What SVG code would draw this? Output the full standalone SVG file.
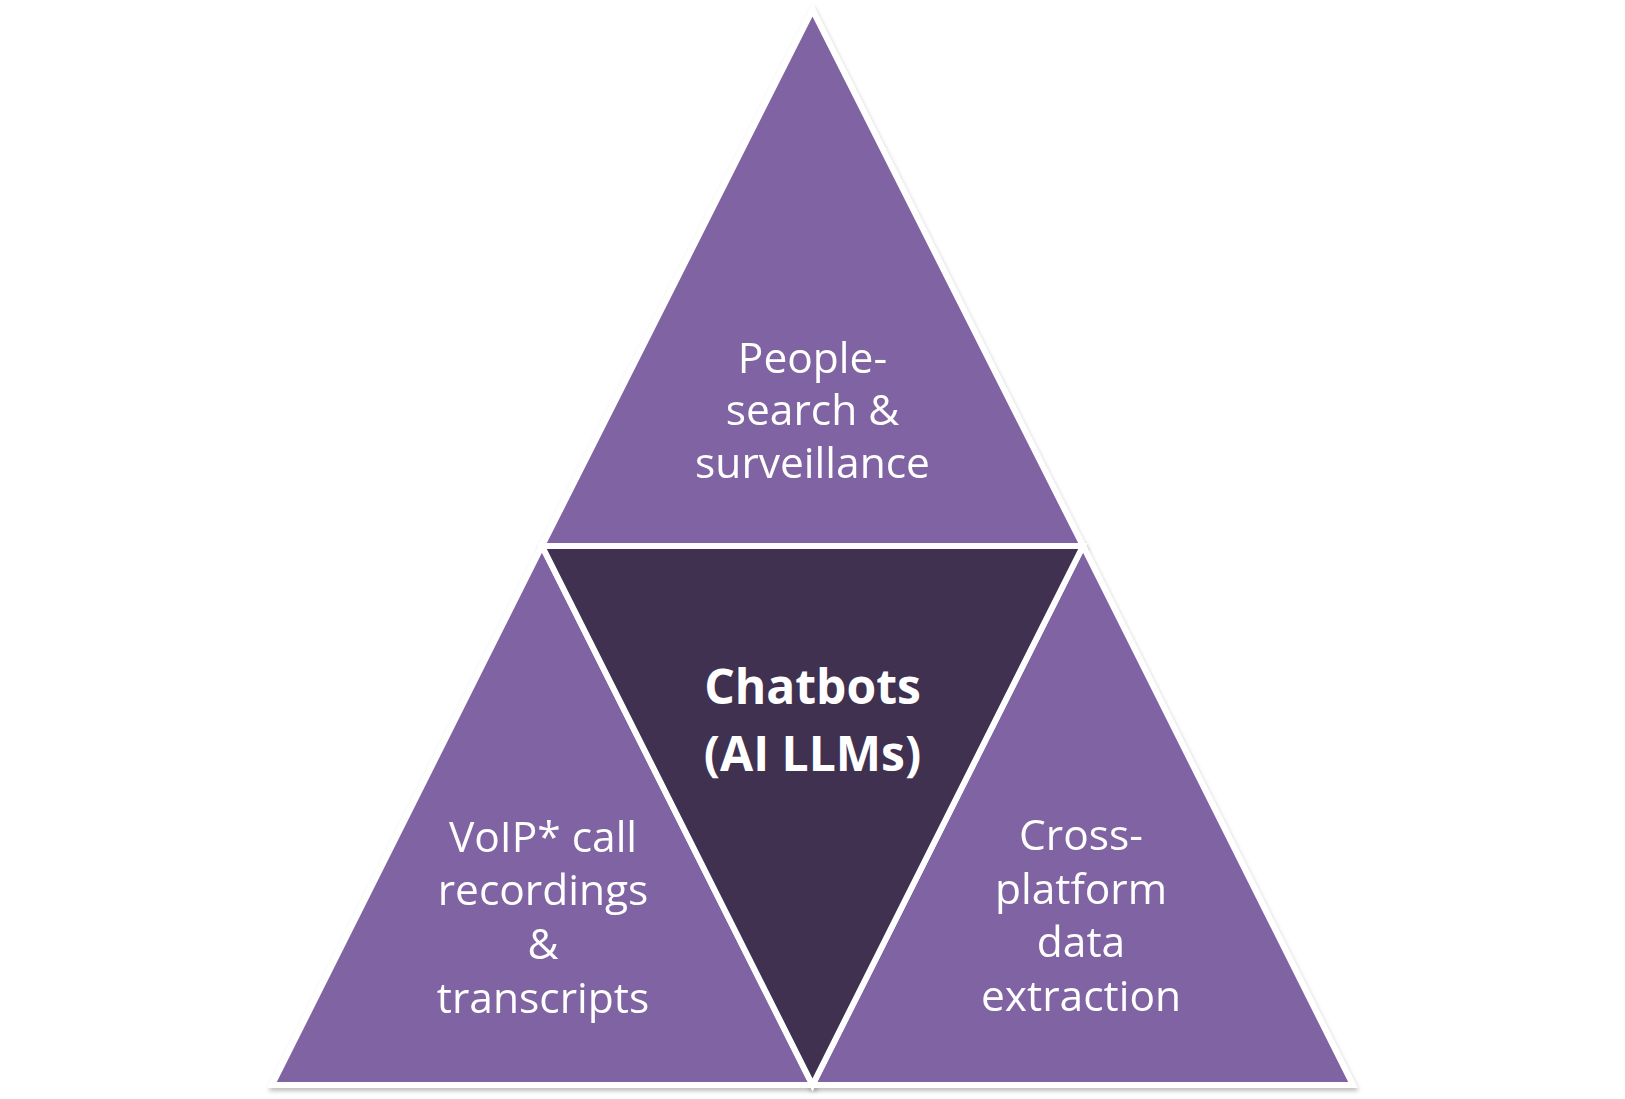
<svg xmlns="http://www.w3.org/2000/svg" width="1625" height="1099" viewBox="0 0 1625 1099">
<defs>
<filter id="sh" x="-10%" y="-10%" width="120%" height="120%">
<feDropShadow dx="1" dy="3" stdDeviation="2" flood-color="#000" flood-opacity="0.25"/>
</filter>
</defs>
<style>
.tri{fill:#8064A2;stroke:#fff;stroke-width:6;stroke-linejoin:miter}
.mid{fill:#403151;stroke:#fff;stroke-width:6;stroke-linejoin:miter}
.t{font-family:"Open Sans","Noto Sans",sans-serif;font-size:42.5px;fill:#fff;text-anchor:middle}
.b{font-family:"Open Sans","Noto Sans",sans-serif;font-size:48px;font-weight:bold;fill:#fff;text-anchor:middle}
</style>
<rect width="1625" height="1099" fill="#fff"/>
<g id="top" filter="url(#sh)">
<polygon class="tri" points="812.5,10 542,546 1083,546"/>
<text class="t" x="812.5" y="373">People-</text>
<text class="t" x="812.5" y="425">search &amp;</text>
<text class="t" x="812.5" y="478">surveillance</text>
</g>
<g id="left" filter="url(#sh)">
<polygon class="tri" points="542,546 272,1085 812.5,1085"/>
<text class="t" x="543" y="852">VoIP* call</text>
<text class="t" x="543" y="905">recordings</text>
<text class="t" x="543" y="959">&amp;</text>
<text class="t" x="543" y="1013">transcripts</text>
</g>
<g id="right" filter="url(#sh)">
<polygon class="tri" points="1083,546 812.5,1085 1353,1085"/>
<text class="t" x="1081" y="850">Cross-</text>
<text class="t" x="1081" y="904">platform</text>
<text class="t" x="1081" y="957">data</text>
<text class="t" x="1081" y="1011">extraction</text>
</g>
<g id="center">
<polygon class="mid" points="542,546 1083,546 812.5,1085"/>
<text class="b" x="812.5" y="704">Chatbots</text>
<text class="b" x="812.5" y="771">(AI LLMs)</text>
</g>
<g id="connectors"/>
</svg>
